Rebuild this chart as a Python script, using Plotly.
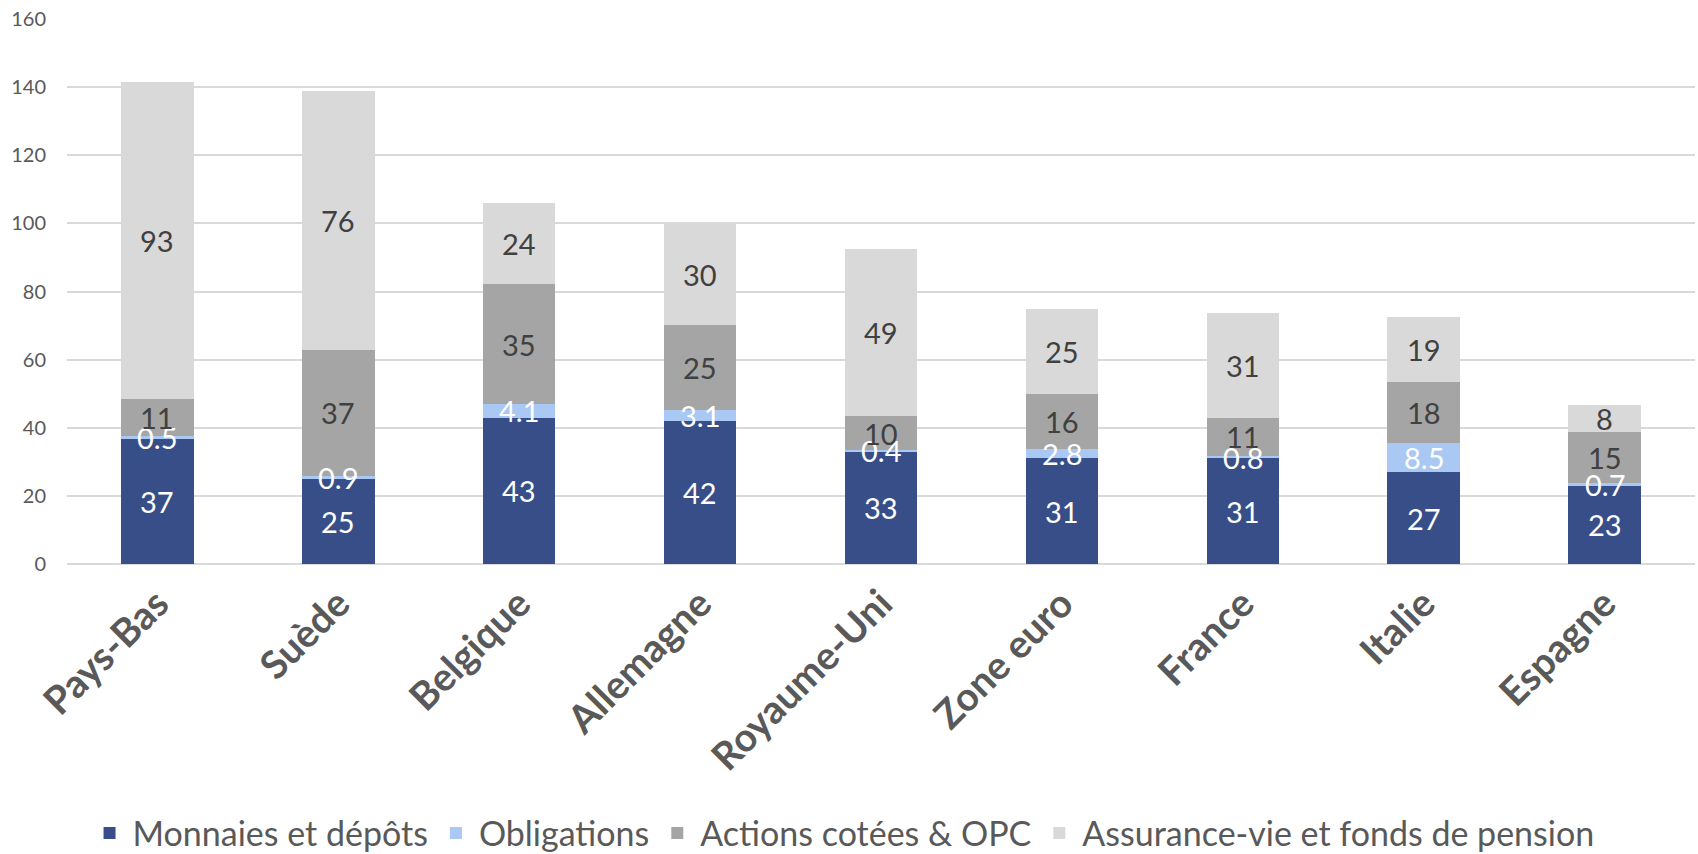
import plotly.graph_objects as go

pays = ["Pays-Bas", "Suède", "Belgique", "Allemagne", "Royaume-Uni",
        "Zone euro", "France", "Italie", "Espagne"]
monnaies = [37, 25, 43, 42, 33, 31, 31, 27, 23]
obligations = [0.5, 0.9, 4.1, 3.1, 0.4, 2.8, 0.8, 8.5, 0.7]
actions = [11, 37, 35, 25, 10, 16, 11, 18, 15]
assurance = [93, 76, 24, 30, 49, 25, 31, 19, 8]
yticks = [0, 20, 40, 60, 80, 100, 120, 140, 160]

series = [
    ("Monnaies et dépôts", monnaies, "#374E88", "white"),
    ("Obligations", obligations, "#A9C8F3", "white"),
    ("Actions cotées & OPC", actions, "#A5A5A5", "#404040"),
    ("Assurance-vie et fonds de pension", assurance, "#D9D9D9", "#404040"),
]

FONT = "Lato"
fig = go.Figure()
annotations = []
base = [0.0] * len(pays)
for name, vals, color, tcol in series:
    fig.add_trace(go.Bar(
        x=pays, y=vals, name=name,
        marker=dict(color=color, line=dict(width=0)),
    ))
    for i, v in enumerate(vals):
        annotations.append(dict(
            x=pays[i], y=base[i] + v / 2, xref="x", yref="y",
            text=f"{v:g}", showarrow=False,
            font=dict(family=FONT, size=29, color=tcol),
        ))
        base[i] += v

fig.update_layout(
    barmode="stack",
    bargap=0.6,
    width=1698, height=854,
    margin=dict(l=67, r=3, t=19, b=290, autoexpand=False),
    paper_bgcolor="white",
    plot_bgcolor="white",
    font=dict(family=FONT, color="#595959"),
    annotations=annotations,
    legend=dict(
        orientation="h", traceorder="normal",
        x=0.012, xanchor="left",
        yref="container", y=0.024, yanchor="middle",
        font=dict(family=FONT, size=34, color="#595959"),
        itemwidth=36, tracegroupgap=0,
    ),
    showlegend=True,
)
fig.update_xaxes(
    tickangle=-45,
    tickfont=dict(family=FONT, size=39, color="#595959", weight="bold"),
    showgrid=False, showline=False, ticks="",
    ticklabelstandoff=8,
)
fig.update_yaxes(
    range=[0, 160.05], tickmode="array", tickvals=yticks,
    showgrid=True, gridcolor="#D9D9D9", gridwidth=1.5,
    zeroline=True, zerolinecolor="#D9D9D9", zerolinewidth=1.5,
    tickfont=dict(family=FONT, size=20, color="#595959"),
    ticks="", showline=False, ticklabelstandoff=20,
)
fig.write_html(
    "out.html",
    config={"displayModeBar": False},
    post_script="document.body.style.margin='0';document.body.style.overflow='hidden';",
)
